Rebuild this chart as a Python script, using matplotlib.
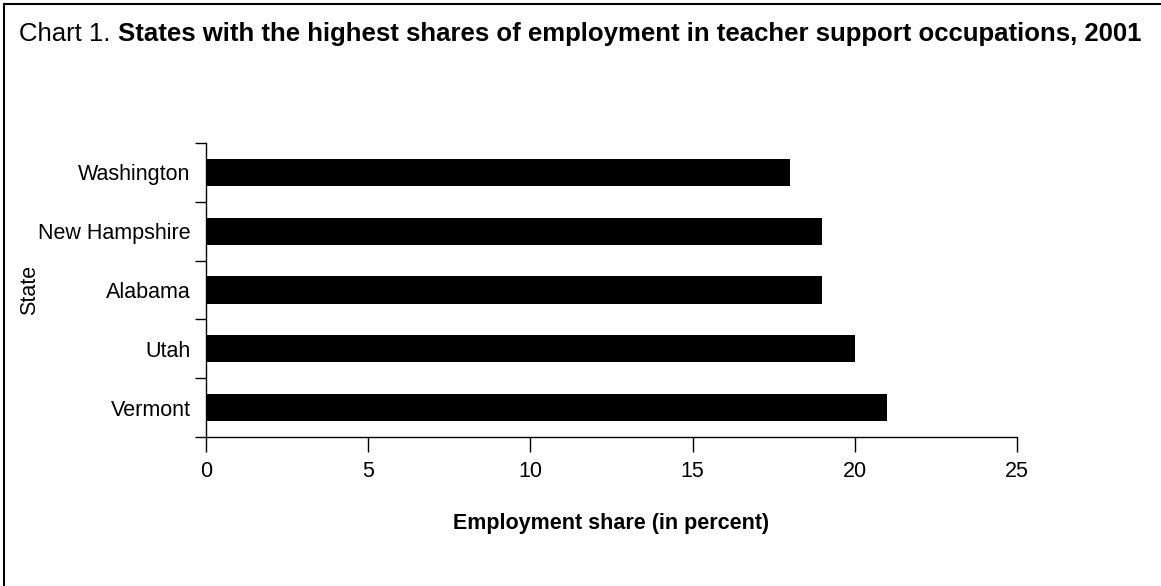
import matplotlib
matplotlib.use("Agg")
import matplotlib.pyplot as plt
from matplotlib.lines import Line2D
import numpy as np

states = ["Vermont", "Utah", "Alabama", "New Hampshire", "Washington"]
shares = [21, 20, 19, 19, 18]
xticks = [0, 5, 10, 15, 20, 25]

plt.rcParams['font.family'] = ['Liberation Sans', 'DejaVu Sans']

W, H = 1161, 586
fig = plt.figure(figsize=(W/100, H/100), dpi=100)
ax = fig.add_axes([206/W, 1-437/H, (1017-206)/W, (437-143)/H])

y = np.arange(len(states))
ax.barh(y, shares, height=0.46, color='black')
ax.set_xlim(0, 25)
ax.set_ylim(-0.5, len(states)-0.5)
ax.set_xticks(xticks)
ax.set_xticklabels([str(t) for t in xticks], fontsize=15.5)
ax.set_yticks(y)
ax.set_yticklabels(states, fontsize=15.5)
ax.set_yticks(np.arange(-0.5, len(states)), minor=True)
ax.tick_params(axis='y', which='major', length=0, pad=11)
ax.tick_params(axis='y', which='minor', length=8, width=1, direction='out')
ax.tick_params(axis='x', which='major', length=11, width=1, direction='out', pad=6)
for s in ['top', 'right']:
    ax.spines[s].set_visible(False)
for s in ['left', 'bottom']:
    ax.spines[s].set_linewidth(1)

ax.set_xlabel("Employment share (in percent)", fontsize=15.5, fontweight='bold', va='center')
ax.xaxis.set_label_coords(0.5, (437-523)/(437-143))
fig.text(30/W, 1-290/H, "State", rotation=90, fontsize=15.5, ha='center', va='center')

t1 = fig.text(19/W, 1-41/H, "Chart 1. ", fontsize=18.5, ha='left', va='baseline')
fig.canvas.draw()
bb = t1.get_window_extent()
fig.text(bb.x1/W, 1-41/H, "States with the highest shares of employment in teacher support occupations, 2001",
         fontsize=18.5, fontweight='bold', ha='left', va='baseline')

fig.add_artist(Line2D([4/W, 4/W], [0, 1-4/H], transform=fig.transFigure, color='black', lw=1.5))
fig.add_artist(Line2D([4/W, 1], [1-4/H, 1-4/H], transform=fig.transFigure, color='black', lw=1.5))

fig.savefig("out.png", dpi=100)
